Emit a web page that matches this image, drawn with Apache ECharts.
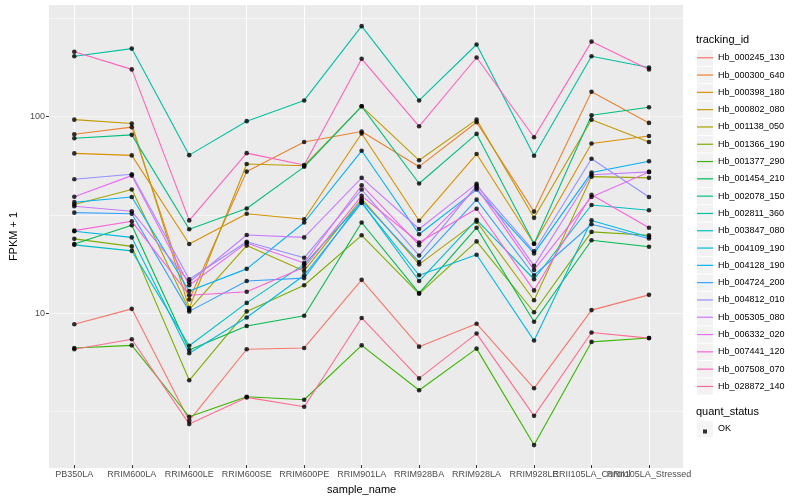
<!DOCTYPE html>
<html><head><meta charset="utf-8">
<script src="https://cdn.jsdelivr.net/npm/echarts@6/dist/echarts.min.js"></script>
<style>html,body{margin:0;padding:0;background:#fff}#chart{width:800px;height:500px}</style>
</head><body><div id="chart"></div>
<script>
const categories = ['PB350LA','RRIM600LA','RRIM600LE','RRIM600SE','RRIM600PE','RRIM901LA','RRIM928BA','RRIM928LA','RRIM928LE','RRII105LA_Control','RRII105LA_Stressed'];
const trackingIds = ['Hb_000245_130','Hb_000300_640','Hb_000398_180','Hb_000802_080','Hb_001138_050','Hb_001366_190','Hb_001377_290','Hb_001454_210','Hb_002078_150','Hb_002811_360','Hb_003847_080','Hb_004109_190','Hb_004128_190','Hb_004724_200','Hb_004812_010','Hb_005305_080','Hb_006332_020','Hb_007441_120','Hb_007508_070','Hb_028872_140'];
const colors = ['#F8766D','#EA8331','#D89000','#C09B00','#A3A500','#7CAE00','#39B600','#00BB4E','#00BF7D','#00C1A3','#00BFC4','#00BAE0','#00B0F6','#35A2FF','#9590FF','#C77CFF','#E76BF3','#FA62DB','#FF62BC','#FF6C91'];

const hb_000245_130 = [8.6, 10.3, 2.76, 6.4, 6.5, 14.5, 6.6, 8.65, 4.04, 10.15, 12.15];
const hb_000300_640 = [80.6, 87.6, 11.5, 51.9, 73.5, 83.2, 55, 92.8, 32.4, 133, 92.1];
const hb_000398_180 = [64.3, 62.8, 22.1, 31.6, 29.6, 81.3, 29.1, 63.8, 22.2, 72.3, 79];
const hb_000802_080 = [95.7, 91.4, 10.4, 56.8, 55.6, 112, 59.3, 95.7, 30.1, 95.7, 73.6];
const hb_001138_050 = [35.2, 42, 10.2, 21.7, 16.1, 37.7, 17.4, 28.8, 11.4, 48.9, 48.2];
const hb_001366_190 = [23.5, 21.5, 4.44, 10.0, 13.6, 24.5, 12.3, 22.8, 9.9, 25.5, 24.5];
const hb_001377_290 = [6.5, 6.7, 2.89, 3.66, 3.53, 6.7, 3.95, 6.45, 2.07, 6.98, 7.31];
const hb_001454_210 = [22.1, 27.6, 6.34, 8.42, 9.5, 28.5, 12.4, 26.8, 8.85, 23.1, 21.4];
const hb_002078_150 = [76.9, 80, 26.3, 33.6, 54.9, 112, 45.1, 80.9, 22.2, 100.7, 110.7];
const hb_002811_360 = [202, 221, 63, 94, 120, 288, 120, 232, 62.6, 202, 177];
const hb_003847_080 = [21.9, 20.4, 6.67, 11.05, 17.4, 36.2, 14.3, 29.4, 14.6, 35, 32.9];
const hb_004109_190 = [25.7, 23.9, 6.11, 9.3, 15.3, 35.9, 15.3, 19.5, 7.09, 29.2, 24.0];
const hb_004128_190 = [36.2, 38.5, 12.7, 16.5, 28.5, 66.3, 24.8, 42, 19.8, 51.3, 58.6];
const hb_004724_200 = [32, 31.6, 10.0, 14.3, 14.8, 36.9, 17.9, 37.3, 15.3, 27.9, 23.6];
const hb_004812_010 = [47.4, 50.3, 14.6, 22.7, 18.8, 42, 19.3, 44, 20.3, 60.4, 38.5];
const hb_005305_080 = [34.5, 32.5, 14.1, 24.6, 23.9, 48.2, 26.4, 44.9, 17.1, 50, 51.7];
const hb_006332_020 = [38.6, 49.5, 13.6, 22.4, 17.7, 44.2, 21.8, 43, 16.3, 38.5, 51.7];
const hb_007441_120 = [25.9, 28.9, 12.1, 12.6, 16.8, 39, 22.5, 33.5, 12.8, 39.5, 26.8];
const hb_007508_070 = [213, 173, 29.2, 64.5, 56.1, 196, 88.5, 199, 77.8, 240, 173];
const hb_028872_140 = [6.4, 7.2, 2.65, 3.63, 3.25, 9.25, 4.54, 7.7, 2.92, 7.8, 7.3];

const seriesValues = [hb_000245_130, hb_000300_640, hb_000398_180, hb_000802_080, hb_001138_050, hb_001366_190, hb_001377_290, hb_001454_210, hb_002078_150, hb_002811_360, hb_003847_080, hb_004109_190, hb_004128_190, hb_004724_200, hb_004812_010, hb_005305_080, hb_006332_020, hb_007441_120, hb_007508_070, hb_028872_140];

const yTickLabels = [10, 100];
const Y_MIN = 1.635, Y_MAX = 369.4;
const FONT = 'Liberation Sans';

const lineSeries = trackingIds.map((name, k) => ({
  name: name, type: 'line', xAxisIndex: 1, yAxisIndex: 2,
  data: seriesValues[k], showSymbol: false, symbol: 'circle',
  lineStyle: { width: 1.1, color: colors[k] }, itemStyle: { color: colors[k] },
  z: 2, silent: true
}));
const pointData = [];
seriesValues.forEach(vals => vals.forEach((v, i) => pointData.push([categories[i], v])));
const pointSeries = {
  name: 'OK', type: 'scatter', xAxisIndex: 1, yAxisIndex: 2, data: pointData,
  symbol: 'circle', symbolSize: 4.6, itemStyle: { color: '#000' }, z: 5, silent: true
};

const legendCommon = { orient: 'vertical', left: 697, padding: 0, selectedMode: false, align: 'left' };
const option = {
  animation: false,
  textStyle: { fontFamily: FONT },
  color: colors,
  title: [
    { text: 'tracking_id', left: 696, top: 34, padding: 0, textStyle: { fontSize: 11, fontWeight: 'normal', color: '#000', fontFamily: FONT } },
    { text: 'quant_status', left: 696, top: 406, padding: 0, textStyle: { fontSize: 11, fontWeight: 'normal', color: '#000', fontFamily: FONT } }
  ],
  legend: [
    Object.assign({}, legendCommon, { top: 49.6, itemWidth: 16, itemHeight: 16.3, itemGap: 1, icon: 'rect', z: 1,
      data: trackingIds.map(n => ({ name: n, itemStyle: { color: '#F2F2F2', borderWidth: 0 } })),
      textStyle: { fontSize: 9, lineHeight: 16.3, color: 'rgba(0,0,0,0)', fontFamily: FONT } }),
    Object.assign({}, legendCommon, { top: 49.6, itemWidth: 16, itemHeight: 16.3, itemGap: 1, z: 3,
      icon: 'path://M0,0 L16,0 L16,1.2 L0,1.2 Z',
      data: trackingIds.slice(),
      textStyle: { fontSize: 9, lineHeight: 16.3, color: '#000', fontFamily: FONT } }),
    Object.assign({}, legendCommon, { top: 420.8, itemWidth: 16, itemHeight: 16.3, icon: 'rect', z: 1,
      data: [{ name: 'OK', itemStyle: { color: '#F2F2F2' } }],
      textStyle: { fontSize: 9, lineHeight: 16.3, color: '#000', fontFamily: FONT } }),
    Object.assign({}, legendCommon, { left: 703, top: 427, itemWidth: 4, itemHeight: 4, icon: 'rect', z: 3,
      data: [{ name: 'OK', itemStyle: { color: '#000' } }],
      textStyle: { fontSize: 9, color: 'rgba(0,0,0,0)', fontFamily: FONT } })
  ],
  grid: [
    { left: 40, top: 5, width: 643, height: 463, show: true, backgroundColor: '#EBEBEB', borderWidth: 0, containLabel: false },
    { left: 74.3, top: 5, width: 574.7, height: 463, show: false, containLabel: false }
  ],
  xAxis: [
    { gridIndex: 0, type: 'value', min: 0, max: 1, show: false },
    { gridIndex: 1, type: 'category', data: categories, boundaryGap: false,
      axisLine: { show: false },
      axisTick: { show: true, length: 3, lineStyle: { color: '#333', width: 1 } },
      axisLabel: { interval: 0, hideOverlap: false, color: '#4D4D4D', fontSize: 9, margin: 5, fontFamily: FONT },
      splitLine: { show: true, lineStyle: { color: '#FFFFFF', width: 1.1 } },
      name: 'sample_name', nameLocation: 'middle', nameGap: 14,
      nameTextStyle: { fontSize: 11, color: '#000', fontFamily: FONT } }
  ],
  yAxis: [
    { gridIndex: 0, type: 'value', position: 'left', offset: 0, min: Math.log10(Y_MIN), max: Math.log10(Y_MAX),
      axisLine: { show: false }, axisTick: { show: false }, axisLabel: { show: false },
      splitLine: { show: true, showMinLine: false, showMaxLine: false, lineStyle: { color: '#FFFFFF', width: 0.55 } } },
    { gridIndex: 0, type: 'log', logBase: 10, position: 'left', offset: 0, min: Y_MIN, max: Y_MAX,
      axisLine: { show: false },
      axisTick: { show: true, length: 3, customValues: yTickLabels, lineStyle: { color: '#333', width: 1 } },
      axisLabel: { color: '#4D4D4D', fontSize: 9, margin: 4, fontFamily: FONT, showMinLabel: false, showMaxLabel: false,
        formatter: v => (yTickLabels.indexOf(Math.round(v)) >= 0 ? String(Math.round(v)) : '') },
      splitLine: { show: true, showMinLine: false, showMaxLine: false, lineStyle: { color: '#FFFFFF', width: 1.1 } },
      name: 'FPKM + 1', nameLocation: 'middle', nameGap: 24,
      nameTextStyle: { fontSize: 11, color: '#000', fontFamily: FONT } },
    { gridIndex: 1, type: 'log', logBase: 10, position: 'left', min: Y_MIN, max: Y_MAX, show: false,
      splitLine: { show: false } }
  ],
  series: lineSeries.concat([pointSeries])
};
const chart = echarts.init(document.getElementById('chart'), null, { renderer: 'canvas' });
chart.setOption(option);
</script></body></html>
